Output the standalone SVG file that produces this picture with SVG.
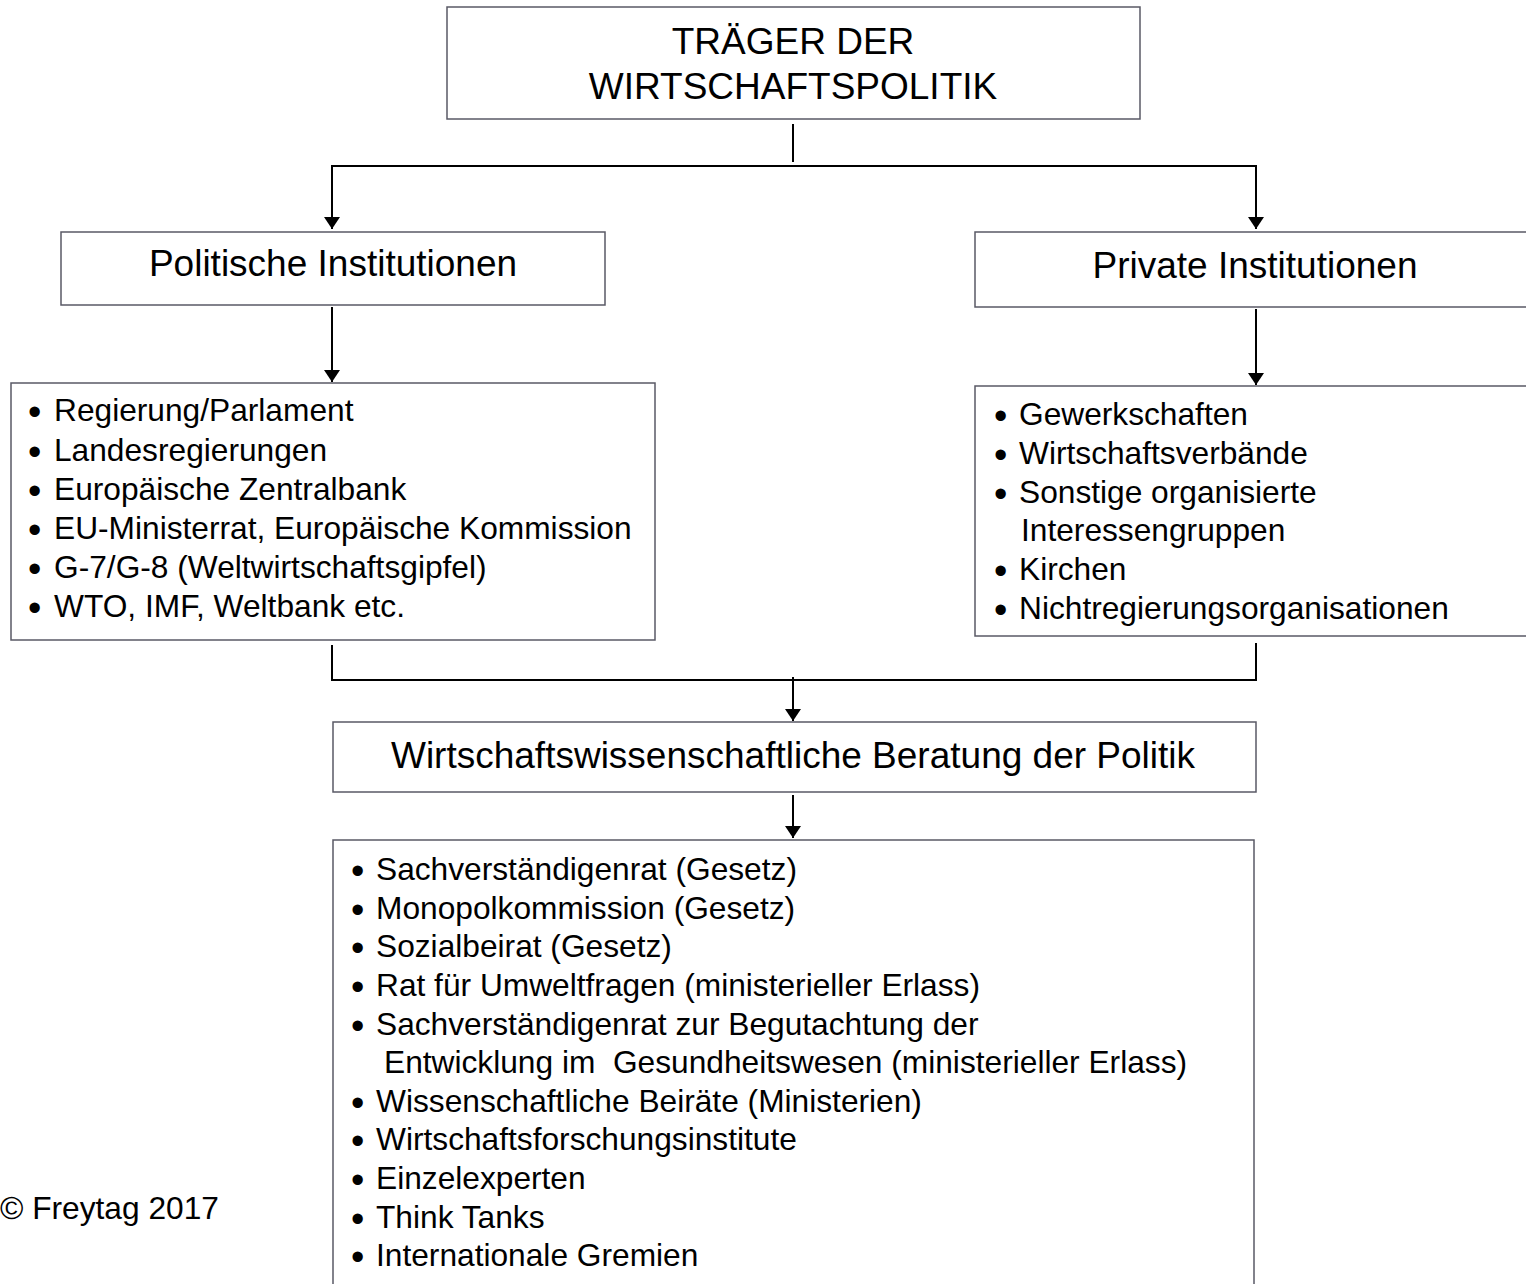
<svg xmlns="http://www.w3.org/2000/svg" width="1526" height="1284" viewBox="0 0 1526 1284">
<style>
.box{fill:#fff;stroke:#595966;stroke-width:1.5}
.ln{fill:none;stroke:#000;stroke-width:2}
.t{font-family:"Liberation Sans",Arial,sans-serif;fill:#000}
.h{font-size:37px;text-anchor:middle}
.l{font-size:31.7px}
.b{font-family:"Liberation Sans",Arial,sans-serif;font-size:38px;fill:#000}
</style>
<defs>
<marker id="ah" viewBox="0 0 12 16" refX="12" refY="8" markerWidth="12" markerHeight="16" markerUnits="userSpaceOnUse" orient="auto">
<path d="M0,0 L12,8 L0,16 Z" fill="#000"/>
</marker>
</defs>
<rect width="1526" height="1284" fill="#fff"/>
<g id="connectors">
<line class="ln" x1="793" y1="124" x2="793" y2="162"/>
<line class="ln" x1="331" y1="166" x2="1257" y2="166"/>
<line class="ln" x1="332" y1="166" x2="332" y2="229" marker-end="url(#ah)"/>
<line class="ln" x1="1256" y1="166" x2="1256" y2="229" marker-end="url(#ah)"/>
<line class="ln" x1="332" y1="307" x2="332" y2="382" marker-end="url(#ah)"/>
<line class="ln" x1="1256" y1="309" x2="1256" y2="385" marker-end="url(#ah)"/>
<polyline class="ln" points="332,645 332,680 1256,680 1256,643"/>
<line class="ln" x1="793" y1="677" x2="793" y2="721" marker-end="url(#ah)"/>
<line class="ln" x1="793" y1="795" x2="793" y2="838" marker-end="url(#ah)"/>
</g>
<g id="top">
<rect class="box" x="447" y="7" width="693" height="112"/>
<text class="t h" x="793" y="54">TRÄGER DER</text>
<text class="t h" x="793" y="99">WIRTSCHAFTSPOLITIK</text>
</g>
<g id="politische">
<rect class="box" x="61" y="232" width="544" height="73"/>
<text class="t h" x="333" y="276">Politische Institutionen</text>
</g>
<g id="private">
<rect class="box" x="975" y="232" width="560" height="75"/>
<text class="t h" x="1255" y="278">Private Institutionen</text>
</g>
<g id="politische-liste">
<rect class="box" x="11" y="383" width="644" height="257"/>
<g class="b">
<text x="28" y="425">•</text><text x="28" y="465">•</text><text x="28" y="504">•</text>
<text x="28" y="543">•</text><text x="28" y="582">•</text><text x="28" y="621">•</text>
</g>
<text class="t l" x="54" y="421">Regierung/Parlament</text>
<text class="t l" x="54" y="461">Landesregierungen</text>
<text class="t l" x="54" y="500">Europäische Zentralbank</text>
<text class="t l" x="54" y="539">EU-Ministerrat, Europäische Kommission</text>
<text class="t l" x="54" y="578">G-7/G-8 (Weltwirtschaftsgipfel)</text>
<text class="t l" x="54" y="617">WTO, IMF, Weltbank etc.</text>
</g>
<g id="private-liste">
<rect class="box" x="975" y="386" width="560" height="250"/>
<g class="b">
<text x="994" y="429">•</text><text x="994" y="468">•</text><text x="994" y="507">•</text>
<text x="994" y="584">•</text><text x="994" y="623">•</text>
</g>
<text class="t l" x="1019" y="425">Gewerkschaften</text>
<text class="t l" x="1019" y="464">Wirtschaftsverbände</text>
<text class="t l" x="1019" y="503">Sonstige organisierte</text>
<text class="t l" x="1021" y="541">Interessengruppen</text>
<text class="t l" x="1019" y="580">Kirchen</text>
<text class="t l" x="1019" y="619">Nichtregierungsorganisationen</text>
</g>
<g id="beratung">
<rect class="box" x="333" y="722" width="923" height="70"/>
<text class="t h" x="793" y="768">Wirtschaftswissenschaftliche Beratung der Politik</text>
</g>
<g id="beratung-liste">
<rect class="box" x="333" y="840" width="921" height="460"/>
<g class="b">
<text x="351" y="884">•</text><text x="351" y="923">•</text><text x="351" y="961">•</text>
<text x="351" y="1000">•</text><text x="351" y="1039">•</text><text x="351" y="1116">•</text>
<text x="351" y="1154">•</text><text x="351" y="1193">•</text><text x="351" y="1232">•</text>
<text x="351" y="1270">•</text>
</g>
<text class="t l" x="376" y="880">Sachverständigenrat (Gesetz)</text>
<text class="t l" x="376" y="919">Monopolkommission (Gesetz)</text>
<text class="t l" x="376" y="957">Sozialbeirat (Gesetz)</text>
<text class="t l" x="376" y="996">Rat für Umweltfragen (ministerieller Erlass)</text>
<text class="t l" x="376" y="1035">Sachverständigenrat zur Begutachtung der</text>
<text class="t l" x="384" y="1073" xml:space="preserve">Entwicklung im  Gesundheitswesen (ministerieller Erlass)</text>
<text class="t l" x="376" y="1112">Wissenschaftliche Beiräte (Ministerien)</text>
<text class="t l" x="376" y="1150">Wirtschaftsforschungsinstitute</text>
<text class="t l" x="376" y="1189">Einzelexperten</text>
<text class="t l" x="376" y="1228">Think Tanks</text>
<text class="t l" x="376" y="1266">Internationale Gremien</text>
</g>
<text class="t l" x="0" y="1219">© Freytag 2017</text>
</svg>
